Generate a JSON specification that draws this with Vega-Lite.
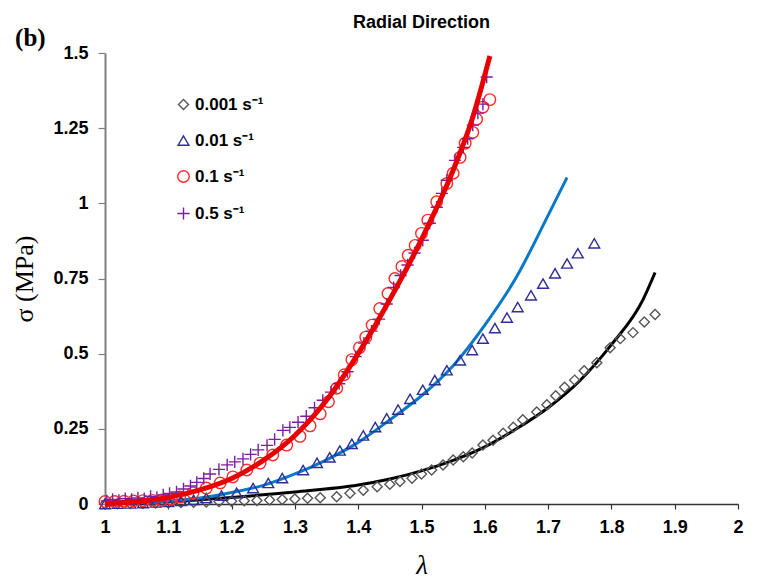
{
  "$schema": "https://vega.github.io/schema/vega-lite/v6.json",
  "width": 633,
  "height": 451,
  "autosize": "none",
  "padding": {"left": 105, "top": 53, "right": 19, "bottom": 80},
  "background": "white",
  "title": {"text": "Radial Direction", "font": "Liberation Sans", "fontSize": 18, "fontWeight": "bold", "color": "#000", "anchor": "middle", "offset": -6},
  "config": {"view": {"stroke": null}},
  "datasets": {
    "points": [
      {"rate": "0.001 s⁻¹", "lambda": 1.00, "sigma": 0.000},
      {"rate": "0.001 s⁻¹", "lambda": 1.02, "sigma": 0.001},
      {"rate": "0.001 s⁻¹", "lambda": 1.04, "sigma": 0.002},
      {"rate": "0.001 s⁻¹", "lambda": 1.06, "sigma": 0.002},
      {"rate": "0.001 s⁻¹", "lambda": 1.08, "sigma": 0.003},
      {"rate": "0.001 s⁻¹", "lambda": 1.10, "sigma": 0.004},
      {"rate": "0.001 s⁻¹", "lambda": 1.12, "sigma": 0.005},
      {"rate": "0.001 s⁻¹", "lambda": 1.14, "sigma": 0.006},
      {"rate": "0.001 s⁻¹", "lambda": 1.16, "sigma": 0.007},
      {"rate": "0.001 s⁻¹", "lambda": 1.18, "sigma": 0.008},
      {"rate": "0.001 s⁻¹", "lambda": 1.20, "sigma": 0.009},
      {"rate": "0.001 s⁻¹", "lambda": 1.22, "sigma": 0.011},
      {"rate": "0.001 s⁻¹", "lambda": 1.24, "sigma": 0.012},
      {"rate": "0.001 s⁻¹", "lambda": 1.26, "sigma": 0.013},
      {"rate": "0.001 s⁻¹", "lambda": 1.28, "sigma": 0.015},
      {"rate": "0.001 s⁻¹", "lambda": 1.30, "sigma": 0.017},
      {"rate": "0.001 s⁻¹", "lambda": 1.32, "sigma": 0.019},
      {"rate": "0.001 s⁻¹", "lambda": 1.34, "sigma": 0.021},
      {"rate": "0.001 s⁻¹", "lambda": 1.366, "sigma": 0.024},
      {"rate": "0.001 s⁻¹", "lambda": 1.387, "sigma": 0.036},
      {"rate": "0.001 s⁻¹", "lambda": 1.408, "sigma": 0.046},
      {"rate": "0.001 s⁻¹", "lambda": 1.43, "sigma": 0.057},
      {"rate": "0.001 s⁻¹", "lambda": 1.45, "sigma": 0.066},
      {"rate": "0.001 s⁻¹", "lambda": 1.466, "sigma": 0.075},
      {"rate": "0.001 s⁻¹", "lambda": 1.485, "sigma": 0.086},
      {"rate": "0.001 s⁻¹", "lambda": 1.50, "sigma": 0.100},
      {"rate": "0.001 s⁻¹", "lambda": 1.516, "sigma": 0.113},
      {"rate": "0.001 s⁻¹", "lambda": 1.534, "sigma": 0.130},
      {"rate": "0.001 s⁻¹", "lambda": 1.55, "sigma": 0.146},
      {"rate": "0.001 s⁻¹", "lambda": 1.566, "sigma": 0.157},
      {"rate": "0.001 s⁻¹", "lambda": 1.58, "sigma": 0.170},
      {"rate": "0.001 s⁻¹", "lambda": 1.597, "sigma": 0.196},
      {"rate": "0.001 s⁻¹", "lambda": 1.613, "sigma": 0.212},
      {"rate": "0.001 s⁻¹", "lambda": 1.629, "sigma": 0.235},
      {"rate": "0.001 s⁻¹", "lambda": 1.645, "sigma": 0.255},
      {"rate": "0.001 s⁻¹", "lambda": 1.66, "sigma": 0.280},
      {"rate": "0.001 s⁻¹", "lambda": 1.682, "sigma": 0.306},
      {"rate": "0.001 s⁻¹", "lambda": 1.698, "sigma": 0.330},
      {"rate": "0.001 s⁻¹", "lambda": 1.712, "sigma": 0.360},
      {"rate": "0.001 s⁻¹", "lambda": 1.726, "sigma": 0.388},
      {"rate": "0.001 s⁻¹", "lambda": 1.742, "sigma": 0.412},
      {"rate": "0.001 s⁻¹", "lambda": 1.757, "sigma": 0.443},
      {"rate": "0.001 s⁻¹", "lambda": 1.777, "sigma": 0.470},
      {"rate": "0.001 s⁻¹", "lambda": 1.798, "sigma": 0.520},
      {"rate": "0.001 s⁻¹", "lambda": 1.814, "sigma": 0.550},
      {"rate": "0.001 s⁻¹", "lambda": 1.834, "sigma": 0.570},
      {"rate": "0.001 s⁻¹", "lambda": 1.852, "sigma": 0.605},
      {"rate": "0.001 s⁻¹", "lambda": 1.869, "sigma": 0.630},

      {"rate": "0.01 s⁻¹", "lambda": 1.000, "sigma": 0.000},
      {"rate": "0.01 s⁻¹", "lambda": 1.020, "sigma": 0.001},
      {"rate": "0.01 s⁻¹", "lambda": 1.040, "sigma": 0.002},
      {"rate": "0.01 s⁻¹", "lambda": 1.060, "sigma": 0.003},
      {"rate": "0.01 s⁻¹", "lambda": 1.080, "sigma": 0.005},
      {"rate": "0.01 s⁻¹", "lambda": 1.100, "sigma": 0.007},
      {"rate": "0.01 s⁻¹", "lambda": 1.120, "sigma": 0.010},
      {"rate": "0.01 s⁻¹", "lambda": 1.140, "sigma": 0.014},
      {"rate": "0.01 s⁻¹", "lambda": 1.160, "sigma": 0.020},
      {"rate": "0.01 s⁻¹", "lambda": 1.184, "sigma": 0.028},
      {"rate": "0.01 s⁻¹", "lambda": 1.208, "sigma": 0.037},
      {"rate": "0.01 s⁻¹", "lambda": 1.234, "sigma": 0.053},
      {"rate": "0.01 s⁻¹", "lambda": 1.258, "sigma": 0.070},
      {"rate": "0.01 s⁻¹", "lambda": 1.280, "sigma": 0.086},
      {"rate": "0.01 s⁻¹", "lambda": 1.313, "sigma": 0.113},
      {"rate": "0.01 s⁻¹", "lambda": 1.335, "sigma": 0.137},
      {"rate": "0.01 s⁻¹", "lambda": 1.355, "sigma": 0.155},
      {"rate": "0.01 s⁻¹", "lambda": 1.371, "sigma": 0.178},
      {"rate": "0.01 s⁻¹", "lambda": 1.390, "sigma": 0.200},
      {"rate": "0.01 s⁻¹", "lambda": 1.408, "sigma": 0.228},
      {"rate": "0.01 s⁻¹", "lambda": 1.427, "sigma": 0.256},
      {"rate": "0.01 s⁻¹", "lambda": 1.445, "sigma": 0.285},
      {"rate": "0.01 s⁻¹", "lambda": 1.463, "sigma": 0.314},
      {"rate": "0.01 s⁻¹", "lambda": 1.482, "sigma": 0.350},
      {"rate": "0.01 s⁻¹", "lambda": 1.502, "sigma": 0.380},
      {"rate": "0.01 s⁻¹", "lambda": 1.521, "sigma": 0.412},
      {"rate": "0.01 s⁻¹", "lambda": 1.540, "sigma": 0.445},
      {"rate": "0.01 s⁻¹", "lambda": 1.561, "sigma": 0.478},
      {"rate": "0.01 s⁻¹", "lambda": 1.580, "sigma": 0.512},
      {"rate": "0.01 s⁻¹", "lambda": 1.597, "sigma": 0.550},
      {"rate": "0.01 s⁻¹", "lambda": 1.616, "sigma": 0.585},
      {"rate": "0.01 s⁻¹", "lambda": 1.635, "sigma": 0.620},
      {"rate": "0.01 s⁻¹", "lambda": 1.652, "sigma": 0.655},
      {"rate": "0.01 s⁻¹", "lambda": 1.673, "sigma": 0.694},
      {"rate": "0.01 s⁻¹", "lambda": 1.692, "sigma": 0.733},
      {"rate": "0.01 s⁻¹", "lambda": 1.711, "sigma": 0.767},
      {"rate": "0.01 s⁻¹", "lambda": 1.730, "sigma": 0.800},
      {"rate": "0.01 s⁻¹", "lambda": 1.747, "sigma": 0.834},
      {"rate": "0.01 s⁻¹", "lambda": 1.773, "sigma": 0.867},

      {"rate": "0.1 s⁻¹", "lambda": 1.000, "sigma": 0.008},
      {"rate": "0.1 s⁻¹", "lambda": 1.015, "sigma": 0.008},
      {"rate": "0.1 s⁻¹", "lambda": 1.030, "sigma": 0.009},
      {"rate": "0.1 s⁻¹", "lambda": 1.045, "sigma": 0.010},
      {"rate": "0.1 s⁻¹", "lambda": 1.060, "sigma": 0.011},
      {"rate": "0.1 s⁻¹", "lambda": 1.075, "sigma": 0.012},
      {"rate": "0.1 s⁻¹", "lambda": 1.090, "sigma": 0.013},
      {"rate": "0.1 s⁻¹", "lambda": 1.105, "sigma": 0.017},
      {"rate": "0.1 s⁻¹", "lambda": 1.118, "sigma": 0.023},
      {"rate": "0.1 s⁻¹", "lambda": 1.139, "sigma": 0.037},
      {"rate": "0.1 s⁻¹", "lambda": 1.160, "sigma": 0.053},
      {"rate": "0.1 s⁻¹", "lambda": 1.182, "sigma": 0.070},
      {"rate": "0.1 s⁻¹", "lambda": 1.202, "sigma": 0.090},
      {"rate": "0.1 s⁻¹", "lambda": 1.224, "sigma": 0.113},
      {"rate": "0.1 s⁻¹", "lambda": 1.245, "sigma": 0.136},
      {"rate": "0.1 s⁻¹", "lambda": 1.265, "sigma": 0.163},
      {"rate": "0.1 s⁻¹", "lambda": 1.287, "sigma": 0.196},
      {"rate": "0.1 s⁻¹", "lambda": 1.308, "sigma": 0.225},
      {"rate": "0.1 s⁻¹", "lambda": 1.324, "sigma": 0.260},
      {"rate": "0.1 s⁻¹", "lambda": 1.340, "sigma": 0.300},
      {"rate": "0.1 s⁻¹", "lambda": 1.353, "sigma": 0.340},
      {"rate": "0.1 s⁻¹", "lambda": 1.366, "sigma": 0.385},
      {"rate": "0.1 s⁻¹", "lambda": 1.378, "sigma": 0.430},
      {"rate": "0.1 s⁻¹", "lambda": 1.390, "sigma": 0.480},
      {"rate": "0.1 s⁻¹", "lambda": 1.402, "sigma": 0.520},
      {"rate": "0.1 s⁻¹", "lambda": 1.412, "sigma": 0.555},
      {"rate": "0.1 s⁻¹", "lambda": 1.422, "sigma": 0.595},
      {"rate": "0.1 s⁻¹", "lambda": 1.434, "sigma": 0.650},
      {"rate": "0.1 s⁻¹", "lambda": 1.447, "sigma": 0.700},
      {"rate": "0.1 s⁻¹", "lambda": 1.458, "sigma": 0.750},
      {"rate": "0.1 s⁻¹", "lambda": 1.469, "sigma": 0.790},
      {"rate": "0.1 s⁻¹", "lambda": 1.479, "sigma": 0.827},
      {"rate": "0.1 s⁻¹", "lambda": 1.490, "sigma": 0.860},
      {"rate": "0.1 s⁻¹", "lambda": 1.500, "sigma": 0.900},
      {"rate": "0.1 s⁻¹", "lambda": 1.510, "sigma": 0.944},
      {"rate": "0.1 s⁻¹", "lambda": 1.524, "sigma": 1.005},
      {"rate": "0.1 s⁻¹", "lambda": 1.540, "sigma": 1.066},
      {"rate": "0.1 s⁻¹", "lambda": 1.550, "sigma": 1.100},
      {"rate": "0.1 s⁻¹", "lambda": 1.561, "sigma": 1.153},
      {"rate": "0.1 s⁻¹", "lambda": 1.569, "sigma": 1.200},
      {"rate": "0.1 s⁻¹", "lambda": 1.581, "sigma": 1.236},
      {"rate": "0.1 s⁻¹", "lambda": 1.587, "sigma": 1.280},
      {"rate": "0.1 s⁻¹", "lambda": 1.597, "sigma": 1.320},
      {"rate": "0.1 s⁻¹", "lambda": 1.608, "sigma": 1.345},

      {"rate": "0.5 s⁻¹", "lambda": 1.003, "sigma": 0.010},
      {"rate": "0.5 s⁻¹", "lambda": 1.012, "sigma": 0.015},
      {"rate": "0.5 s⁻¹", "lambda": 1.022, "sigma": 0.012},
      {"rate": "0.5 s⁻¹", "lambda": 1.032, "sigma": 0.018},
      {"rate": "0.5 s⁻¹", "lambda": 1.042, "sigma": 0.015},
      {"rate": "0.5 s⁻¹", "lambda": 1.052, "sigma": 0.020},
      {"rate": "0.5 s⁻¹", "lambda": 1.062, "sigma": 0.018},
      {"rate": "0.5 s⁻¹", "lambda": 1.072, "sigma": 0.025},
      {"rate": "0.5 s⁻¹", "lambda": 1.082, "sigma": 0.022},
      {"rate": "0.5 s⁻¹", "lambda": 1.092, "sigma": 0.030},
      {"rate": "0.5 s⁻¹", "lambda": 1.102, "sigma": 0.035},
      {"rate": "0.5 s⁻¹", "lambda": 1.113, "sigma": 0.040},
      {"rate": "0.5 s⁻¹", "lambda": 1.124, "sigma": 0.050},
      {"rate": "0.5 s⁻¹", "lambda": 1.135, "sigma": 0.060},
      {"rate": "0.5 s⁻¹", "lambda": 1.145, "sigma": 0.072},
      {"rate": "0.5 s⁻¹", "lambda": 1.156, "sigma": 0.085},
      {"rate": "0.5 s⁻¹", "lambda": 1.166, "sigma": 0.100},
      {"rate": "0.5 s⁻¹", "lambda": 1.180, "sigma": 0.115},
      {"rate": "0.5 s⁻¹", "lambda": 1.193, "sigma": 0.130},
      {"rate": "0.5 s⁻¹", "lambda": 1.205, "sigma": 0.140},
      {"rate": "0.5 s⁻¹", "lambda": 1.218, "sigma": 0.150},
      {"rate": "0.5 s⁻¹", "lambda": 1.230, "sigma": 0.165},
      {"rate": "0.5 s⁻¹", "lambda": 1.242, "sigma": 0.180},
      {"rate": "0.5 s⁻¹", "lambda": 1.256, "sigma": 0.195},
      {"rate": "0.5 s⁻¹", "lambda": 1.268, "sigma": 0.215},
      {"rate": "0.5 s⁻¹", "lambda": 1.281, "sigma": 0.245},
      {"rate": "0.5 s⁻¹", "lambda": 1.292, "sigma": 0.255},
      {"rate": "0.5 s⁻¹", "lambda": 1.305, "sigma": 0.272},
      {"rate": "0.5 s⁻¹", "lambda": 1.318, "sigma": 0.292},
      {"rate": "0.5 s⁻¹", "lambda": 1.331, "sigma": 0.320},
      {"rate": "0.5 s⁻¹", "lambda": 1.344, "sigma": 0.345},
      {"rate": "0.5 s⁻¹", "lambda": 1.357, "sigma": 0.372},
      {"rate": "0.5 s⁻¹", "lambda": 1.370, "sigma": 0.400},
      {"rate": "0.5 s⁻¹", "lambda": 1.383, "sigma": 0.440},
      {"rate": "0.5 s⁻¹", "lambda": 1.396, "sigma": 0.490},
      {"rate": "0.5 s⁻¹", "lambda": 1.409, "sigma": 0.535},
      {"rate": "0.5 s⁻¹", "lambda": 1.421, "sigma": 0.575},
      {"rate": "0.5 s⁻¹", "lambda": 1.433, "sigma": 0.615},
      {"rate": "0.5 s⁻¹", "lambda": 1.445, "sigma": 0.665},
      {"rate": "0.5 s⁻¹", "lambda": 1.456, "sigma": 0.720},
      {"rate": "0.5 s⁻¹", "lambda": 1.467, "sigma": 0.760},
      {"rate": "0.5 s⁻¹", "lambda": 1.478, "sigma": 0.795},
      {"rate": "0.5 s⁻¹", "lambda": 1.489, "sigma": 0.835},
      {"rate": "0.5 s⁻¹", "lambda": 1.502, "sigma": 0.877},
      {"rate": "0.5 s⁻¹", "lambda": 1.513, "sigma": 0.934},
      {"rate": "0.5 s⁻¹", "lambda": 1.524, "sigma": 0.987},
      {"rate": "0.5 s⁻¹", "lambda": 1.532, "sigma": 1.033},
      {"rate": "0.5 s⁻¹", "lambda": 1.540, "sigma": 1.077},
      {"rate": "0.5 s⁻¹", "lambda": 1.553, "sigma": 1.143},
      {"rate": "0.5 s⁻¹", "lambda": 1.566, "sigma": 1.186},
      {"rate": "0.5 s⁻¹", "lambda": 1.573, "sigma": 1.215},
      {"rate": "0.5 s⁻¹", "lambda": 1.581, "sigma": 1.260},
      {"rate": "0.5 s⁻¹", "lambda": 1.589, "sigma": 1.300},
      {"rate": "0.5 s⁻¹", "lambda": 1.597, "sigma": 1.330},
      {"rate": "0.5 s⁻¹", "lambda": 1.603, "sigma": 1.420}
    ],
    "fits": [
      {"fit": "0.001", "lambda": 1.00, "sigma": 0.000},
      {"fit": "0.001", "lambda": 1.10, "sigma": 0.008},
      {"fit": "0.001", "lambda": 1.20, "sigma": 0.022},
      {"fit": "0.001", "lambda": 1.30, "sigma": 0.040},
      {"fit": "0.001", "lambda": 1.40, "sigma": 0.063},
      {"fit": "0.001", "lambda": 1.45, "sigma": 0.083},
      {"fit": "0.001", "lambda": 1.50, "sigma": 0.110},
      {"fit": "0.001", "lambda": 1.55, "sigma": 0.145},
      {"fit": "0.001", "lambda": 1.60, "sigma": 0.190},
      {"fit": "0.001", "lambda": 1.65, "sigma": 0.250},
      {"fit": "0.001", "lambda": 1.70, "sigma": 0.320},
      {"fit": "0.001", "lambda": 1.75, "sigma": 0.410},
      {"fit": "0.001", "lambda": 1.80, "sigma": 0.530},
      {"fit": "0.001", "lambda": 1.85, "sigma": 0.680},
      {"fit": "0.001", "lambda": 1.869, "sigma": 0.770},

      {"fit": "0.01", "lambda": 1.00, "sigma": 0.000},
      {"fit": "0.01", "lambda": 1.05, "sigma": 0.004},
      {"fit": "0.01", "lambda": 1.10, "sigma": 0.010},
      {"fit": "0.01", "lambda": 1.15, "sigma": 0.020},
      {"fit": "0.01", "lambda": 1.20, "sigma": 0.038},
      {"fit": "0.01", "lambda": 1.25, "sigma": 0.062},
      {"fit": "0.01", "lambda": 1.30, "sigma": 0.100},
      {"fit": "0.01", "lambda": 1.35, "sigma": 0.147},
      {"fit": "0.01", "lambda": 1.40, "sigma": 0.205},
      {"fit": "0.01", "lambda": 1.45, "sigma": 0.280},
      {"fit": "0.01", "lambda": 1.50, "sigma": 0.360},
      {"fit": "0.01", "lambda": 1.55, "sigma": 0.460},
      {"fit": "0.01", "lambda": 1.60, "sigma": 0.595},
      {"fit": "0.01", "lambda": 1.65, "sigma": 0.755},
      {"fit": "0.01", "lambda": 1.70, "sigma": 0.960},
      {"fit": "0.01", "lambda": 1.73, "sigma": 1.086},

      {"fit": "0.1", "lambda": 1.00, "sigma": 0.000},
      {"fit": "0.1", "lambda": 1.05, "sigma": 0.008},
      {"fit": "0.1", "lambda": 1.10, "sigma": 0.022},
      {"fit": "0.1", "lambda": 1.15, "sigma": 0.047},
      {"fit": "0.1", "lambda": 1.20, "sigma": 0.085},
      {"fit": "0.1", "lambda": 1.25, "sigma": 0.145},
      {"fit": "0.1", "lambda": 1.30, "sigma": 0.228},
      {"fit": "0.1", "lambda": 1.35, "sigma": 0.345},
      {"fit": "0.1", "lambda": 1.40, "sigma": 0.500},
      {"fit": "0.1", "lambda": 1.45, "sigma": 0.680},
      {"fit": "0.1", "lambda": 1.50, "sigma": 0.880},
      {"fit": "0.1", "lambda": 1.55, "sigma": 1.110},
      {"fit": "0.1", "lambda": 1.58, "sigma": 1.280},
      {"fit": "0.1", "lambda": 1.608, "sigma": 1.490}
    ]
  },
  "layer": [
    {
      "data": {"name": "fits"},
      "transform": [{"filter": "datum.fit === '0.001'"}],
      "mark": {"type": "line", "color": "#000000", "strokeWidth": 3, "interpolate": "monotone"},
      "encoding": {
        "x": {"field": "lambda", "type": "quantitative", "scale": {"domain": [1, 2], "nice": false, "zero": false},
          "axis": {"values": [1, 1.1, 1.2, 1.3, 1.4, 1.5, 1.6, 1.7, 1.8, 1.9, 2], "format": ".1~f", "title": "λ", "grid": false,
            "domainColor": "#333333", "domainWidth": 1.5, "tickColor": "#333333", "tickSize": 5, "tickWidth": 1.2,
            "labelFont": "Liberation Sans", "labelFontWeight": "bold", "labelFontSize": 18, "labelColor": "#000", "labelPadding": 9, "labelFlush": false,
            "titleFont": "Liberation Serif", "titleFontStyle": "italic", "titleFontWeight": "normal", "titleFontSize": 27, "titleColor": "#000", "titlePadding": 16}},
        "y": {"field": "sigma", "type": "quantitative", "scale": {"domain": [0, 1.5], "nice": false},
          "axis": {"values": [0, 0.25, 0.5, 0.75, 1, 1.25, 1.5], "format": ".2~f", "title": "σ  (MPa)", "grid": false,
            "domainColor": "#808080", "domainWidth": 2, "tickColor": "#808080", "tickSize": 7, "tickWidth": 1.2,
            "labelFont": "Liberation Sans", "labelFontWeight": "bold", "labelFontSize": 18, "labelColor": "#000", "labelPadding": 10, "labelFlush": false,
            "titleFont": "Liberation Serif", "titleFontWeight": "normal", "titleFontSize": 26, "titleColor": "#000", "titlePadding": 15}}
      }
    },
    {
      "data": {"name": "fits"},
      "transform": [{"filter": "datum.fit === '0.01'"}],
      "mark": {"type": "line", "color": "#0a78c8", "strokeWidth": 3, "interpolate": "monotone"},
      "encoding": {
        "x": {"field": "lambda", "type": "quantitative"},
        "y": {"field": "sigma", "type": "quantitative"}
      }
    },
    {
      "data": {"name": "points"},
      "mark": {"type": "point", "filled": false, "strokeWidth": 1.4, "opacity": 1},
      "encoding": {
        "x": {"field": "lambda", "type": "quantitative"},
        "y": {"field": "sigma", "type": "quantitative"},
        "color": {"field": "rate", "type": "nominal",
          "scale": {"domain": ["0.001 s⁻¹", "0.01 s⁻¹", "0.1 s⁻¹", "0.5 s⁻¹"], "range": ["#555555", "#2e2e96", "#ff2a2a", "#7a1fa2"]},
          "legend": {"title": null, "orient": "none", "legendX": 70, "legendY": 43, "rowPadding": 18,
            "labelFont": "Liberation Sans", "labelFontWeight": "bold", "labelFontSize": 17, "labelColor": "#000", "labelOffset": 3,
            "symbolStrokeWidth": 1.4}},
        "shape": {"field": "rate", "type": "nominal",
          "scale": {"domain": ["0.001 s⁻¹", "0.01 s⁻¹", "0.1 s⁻¹", "0.5 s⁻¹"], "range": ["diamond", "triangle-up", "circle", "M-1,0H1M0,-1V1"]}},
        "size": {"field": "rate", "type": "nominal",
          "scale": {"domain": ["0.001 s⁻¹", "0.01 s⁻¹", "0.1 s⁻¹", "0.5 s⁻¹"], "range": [100, 150, 140, 190]}}
      }
    },
    {
      "data": {"name": "fits"},
      "transform": [{"filter": "datum.fit === '0.1'"}],
      "mark": {"type": "line", "color": "#e80000", "strokeWidth": 5, "interpolate": "monotone"},
      "encoding": {
        "x": {"field": "lambda", "type": "quantitative"},
        "y": {"field": "sigma", "type": "quantitative"}
      }
    },
    {
      "data": {"values": [{"label": "(b)"}]},
      "mark": {"type": "text", "font": "Liberation Serif", "fontWeight": "bold", "fontSize": 25, "color": "#000", "align": "left", "baseline": "middle"},
      "encoding": {
        "text": {"field": "label"},
        "x": {"datum": 0.858},
        "y": {"datum": 1.551}
      }
    }
  ]
}
